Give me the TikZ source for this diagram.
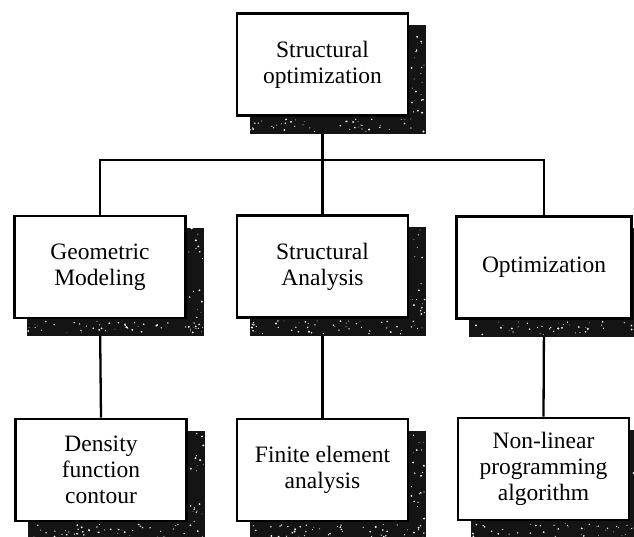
\documentclass[tikz,border=0pt]{standalone}
\usepackage{fontspec}
\setmainfont{Liberation Serif}
\usetikzlibrary{backgrounds,calc}
\begin{document}
\begin{tikzpicture}[x=1pt,y=-1pt,
  box/.style={draw=black, fill=white, line width=2.7pt, minimum width=171pt, minimum height=102pt,
    inner sep=0pt, align=center, font=\fontsize{23.5}{26}\selectfont},
  shadowfill/.style={fill=black!92},
  speck/.style={fill=white},
  link/.style={draw=black, line width=2.3pt}]
\useasboundingbox (0,0) rectangle (634,537);
\node[box] (top)  at (322.5,64.5) {Structural\\optimization};
\node[box] (geo)  at (100,267)  {Geometric\\Modeling};
\node[box] (sa)   at (322.5,266.5) {Structural\\Analysis};
\node[box, minimum width=175pt] (opt)  at (544,267.5) {Optimization};
\node[box] (dens) at (101,470) {Density\\function\\contour};
\node[box] (fin)  at (322.5,470) {Finite element\\analysis};
\node[box] (nonl) at (543.5,469) {Non-linear\\programming\\algorithm};
\coordinate (bus) at (322.5,160);
\begin{pgfonlayer}{background}
  \draw[link] (top.south) -- (bus);
  \draw[link] (bus) -- (sa.north);
  \draw[link] (geo.north) |- (bus) -| (opt.north);
  \draw[link] (geo.south) -- (dens.north);
  \draw[link] (sa.south) -- (fin.north);
  \draw[link] (opt.south) -- (nonl.north);
  \pgfmathsetseed{11}
  \foreach \n in {top,geo,sa,opt,dens,fin,nonl} {
    \fill[shadowfill] ([shift={(14,13)}]\n.north west) rectangle ([shift={(17,17)}]\n.south east);
    \foreach \i in {1,...,45} {
      \pgfmathsetmacro\u{rnd}\pgfmathsetmacro\v{rnd}\pgfmathsetmacro\r{0.35+0.75*rnd}
      \fill[speck] ($(\n.south west)!\u!(\n.south east) + (14+3*\u, 2+13*\v)$) circle (\r pt);
    }
    \foreach \i in {1,...,22} {
      \pgfmathsetmacro\u{rnd}\pgfmathsetmacro\v{rnd}\pgfmathsetmacro\r{0.35+0.75*rnd}
      \fill[speck] ($(\n.north east)!\v!(\n.south east) + (2+14*\u, 13+3*\v)$) circle (\r pt);
    }
  }
\end{pgfonlayer}
\end{tikzpicture}
\end{document}
